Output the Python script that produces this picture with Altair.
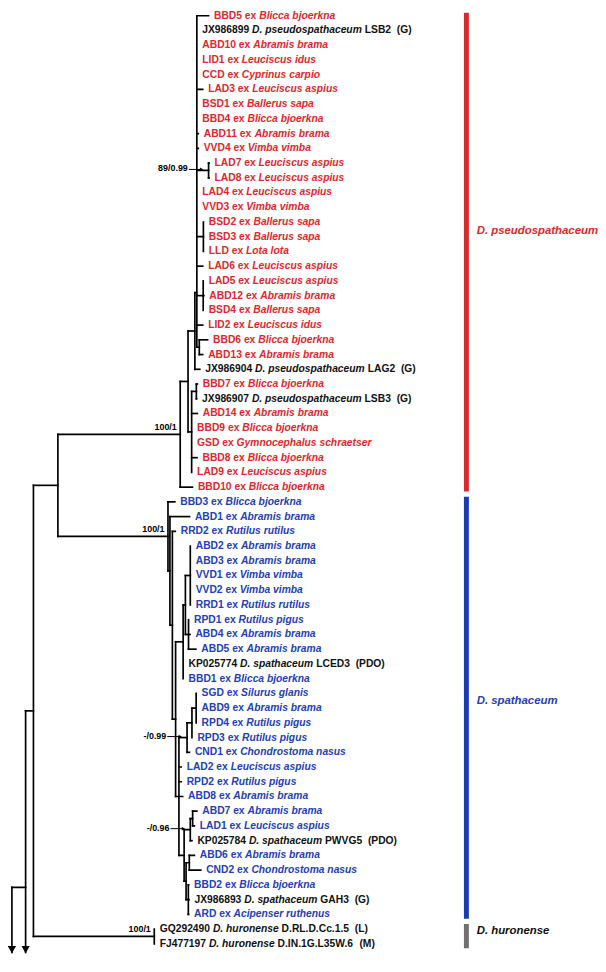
import altair as alt
import pandas as pd

# ---------------- leaves, top to bottom ----------------
leaf_codes = [
    "BBD5", "JX986899", "ABD10", "LID1", "CCD", "LAD3", "BSD1", "BBD4", "ABD11", "VVD4",
    "LAD7", "LAD8", "LAD4", "VVD3", "BSD2", "BSD3", "LLD", "LAD6", "LAD5", "ABD12",
    "BSD4", "LID2", "BBD6", "ABD13", "JX986904", "BBD7", "JX986907", "ABD14", "BBD9", "GSD",
    "BBD8", "LAD9", "BBD10",
    "BBD3", "ABD1", "RRD2", "ABD2", "ABD3", "VVD1", "VVD2", "RRD1", "RPD1", "ABD4",
    "ABD5", "KP025774", "BBD1", "SGD", "ABD9", "RPD4", "RPD3", "CND1", "LAD2", "RPD2",
    "ABD8", "ABD7", "LAD1", "KP025784", "ABD6", "CND2", "BBD2", "JX986893", "ARD",
    "GQ292490", "FJ477197",
]
leaf_hosts = [
    "Blicca bjoerkna", "D. pseudospathaceum", "Abramis brama", "Leuciscus idus", "Cyprinus carpio",
    "Leuciscus aspius", "Ballerus sapa", "Blicca bjoerkna", "Abramis brama", "Vimba vimba",
    "Leuciscus aspius", "Leuciscus aspius", "Leuciscus aspius", "Vimba vimba", "Ballerus sapa",
    "Ballerus sapa", "Lota lota", "Leuciscus aspius", "Leuciscus aspius", "Abramis brama",
    "Ballerus sapa", "Leuciscus idus", "Blicca bjoerkna", "Abramis brama", "D. pseudospathaceum",
    "Blicca bjoerkna", "D. pseudospathaceum", "Abramis brama", "Blicca bjoerkna", "Gymnocephalus schraetser",
    "Blicca bjoerkna", "Leuciscus aspius", "Blicca bjoerkna",
    "Blicca bjoerkna", "Abramis brama", "Rutilus rutilus", "Abramis brama", "Abramis brama",
    "Vimba vimba", "Vimba vimba", "Rutilus rutilus", "Rutilus pigus", "Abramis brama",
    "Abramis brama", "D. spathaceum", "Blicca bjoerkna", "Silurus glanis", "Abramis brama",
    "Rutilus pigus", "Rutilus pigus", "Chondrostoma nasus", "Leuciscus aspius", "Rutilus pigus",
    "Abramis brama", "Abramis brama", "Leuciscus aspius", "D. spathaceum", "Abramis brama",
    "Chondrostoma nasus", "Blicca bjoerkna", "D. spathaceum", "Acipenser ruthenus",
    "D. huronense", "D. huronense",
]
ref_isolate = {"JX986899": "LSB2", "JX986904": "LAG2", "JX986907": "LSB3", "KP025774": "LCED3",
               "KP025784": "PWVG5", "JX986893": "GAH3", "GQ292490": "D.RL.D.Cc.1.5",
               "FJ477197": "D.IN.1G.L35W.6"}
ref_source = {"JX986899": "(G)", "JX986904": "(G)", "JX986907": "(G)", "KP025774": "(PDO)",
              "KP025784": "(PDO)", "JX986893": "(G)", "GQ292490": "(L)", "FJ477197": "(M)"}

# ---------------- tree: children with branch lengths ----------------
tree_children = {
    "R0": "R:14 OUT2:0",
    "R": "N1:8 OUT1:0",
    "N1": "N2:25 HUR:123.5",
    "HUR": "GQ292490:0 FJ477197:0",
    "N2": "P:125 S:112.5",
    "P": "P1:8 BBD10:12.5",
    "P1": "P2:7 P3:3.7",
    "P2": "PA:2 JX986904:5",
    "PA": "BBD5:12 JX986899:0 ABD10:0 LID1:0 CCD:0 LAD3:6 BSD1:0 BBD4:0 ABD11:1.5 VVD4:1.5 "
          "PA1:12 LAD4:0 VVD3:0 PA2:6.7 LAD6:6 PA3:6.5 LID2:6 PA4:2.5",
    "PA1": "LAD7:0.5 LAD8:0.5",
    "PA2": "BSD2:0 BSD3:0 LLD:0",
    "PA3": "LAD5:0 ABD12:0.7 BSD4:0",
    "PA4": "BBD6:8.5 ABD13:3.5",
    "P3": "P3a:4.8 ABD14:5.8 BBD9:0 GSD:0 BBD8:5.5 LAD9:0",
    "P3a": "BBD7:1 JX986907:0.3",
    "S": "BBD3:7 S1:2",
    "S1": "ABD1:20 S2:2.5",
    "S2": "RRD2:3 S3:3.3",
    "S3": "SA:7.7 SE:3.4",
    "SA": "SB:2.3 KP025774:0 BBD1:0",
    "SB": "SC:5 SD:3.2",
    "SC": "ABD2:0 ABD3:0 VVD1:0 VVD2:0 RRD1:0",
    "SD": "RPD1:0 ABD4:1.5 ABD5:7.5",
    "SE": "SG:8.3 LAD2:2.3 RPD2:2.3 ABD8:3.8 SK:5.3",
    "SG": "SH:5 CND1:2.5",
    "SH": "SI:4.3 RPD3:0",
    "SI": "SGD:0 ABD9:0 RPD4:0",
    "SK": "SL:6.3 SN:2",
    "SL": "SM:2.4 KP025784:1.7",
    "SM": "ABD7:4.3 LAD1:1.8",
    "SN": "SO:3.3 SP:2.3",
    "SO": "ABD6:5.2 CND2:11.7",
    "SP": "BBD2:0.3 JX986893:0.7 ARD:0.3",
}
root_name = "R0"
root_depth = 6
node_y_override = {"PA": 18.8}
truncated_leaf_y = {"OUT1": 71.15, "OUT2": 80.0}
arrow_y = 63.4

support_nodes = ["P", "S", "HUR", "PA1", "SG", "SL"]
support_text = ["100/1", "100/1", "100/1", "89/0.99", "-/0.99", "-/0.96"]
support_style = ["above", "above", "above", "leader", "leader", "leader"]

clade_names = ["D. pseudospathaceum", "D. spathaceum", "D. huronense"]
clade_first = [0, 33, 62]
clade_last = [32, 61, 63]
clade_label_pos = [14.6, 46.5, 62.1]
clade_bar_colors = ["#D42B2E", "#1B3AB2", "#707070"]
clade_text_colors = ["#E3262B", "#2340B8", "#111111"]
bar_x = 470.5
clade_label_x = 481

# ---------------- geometry helpers ----------------
W, H = 596, 950
X_DOM = [2, 605]
Y_DOM = [-0.2016, 63.64]
kx = W / (X_DOM[1] - X_DOM[0])
ky = H / (Y_DOM[1] - Y_DOM[0])
FS = 10.4
GAP = 5.5
FONT = "Liberation Sans"

AW = {' ': 278, '(': 333, ')': 333, '-': 333, '.': 278, '/': 278,
      'A': 722, 'B': 722, 'C': 722, 'D': 722, 'E': 667, 'F': 611, 'G': 778, 'H': 722, 'I': 278,
      'J': 556, 'K': 722, 'L': 611, 'M': 833, 'N': 722, 'O': 778, 'P': 667, 'Q': 778, 'R': 722,
      'S': 667, 'T': 611, 'U': 722, 'V': 667, 'W': 944, 'X': 667, 'Y': 667, 'Z': 611,
      'a': 556, 'b': 611, 'c': 556, 'd': 611, 'e': 556, 'f': 333, 'g': 611, 'h': 611, 'i': 278,
      'j': 278, 'k': 556, 'l': 278, 'm': 889, 'n': 611, 'o': 611, 'p': 611, 'q': 611, 'r': 389,
      's': 556, 't': 333, 'u': 611, 'v': 556, 'w': 778, 'x': 556, 'y': 556, 'z': 500}


def tw(s):
    return sum(AW.get(ch, 556) for ch in s) * FS / 1000.0


def kids(n):
    spec = tree_children.get(n, "")
    out = []
    for tok in spec.split():
        name, ln = tok.split(":")
        out.append((name, float(ln)))
    return out


leaf_idx = {c: i for i, c in enumerate(leaf_codes)}
xs, ys = {}, {}
segs = []


def walk(n, x):
    xs[n] = x
    ch = kids(n)
    if not ch:
        ys[n] = leaf_idx[n] if n in leaf_idx else truncated_leaf_y[n]
        return
    for c, ln in ch:
        walk(c, x + ln)
    ys[n] = node_y_override.get(n, (ys[ch[0][0]] + ys[ch[-1][0]]) / 2.0)
    yy = [ys[c] for c, _ in ch] + [ys[n]]
    segs.append({"x1": x, "x2": x, "y1": min(yy), "y2": max(yy)})
    for c, ln in ch:
        if ln > 0:
            segs.append({"x1": x, "x2": xs[c], "y1": ys[c], "y2": ys[c]})


walk(root_name, root_depth)
seg_df = pd.DataFrame(segs)

arrow_df = pd.DataFrame([{"x": xs[n], "y": arrow_y} for n in tree_children
                         if any(c in truncated_leaf_y for c, _ in kids(n))])

# leaf label pieces
pieces = []
clade_of = ["P"] * 33 + ["S"] * 29 + ["H"] * 2
clade_col = {"P": clade_text_colors[0], "S": clade_text_colors[1], "H": clade_text_colors[2]}
for i, (code, host) in enumerate(zip(leaf_codes, leaf_hosts)):
    x0 = xs[code]
    if code in ref_isolate:
        col = "#111111"
        parts = [(code, False, 0.0),
                 (host, True, tw(code + " ")),
                 (ref_isolate[code], False, tw(code + " " + host + " ")),
                 (ref_source[code], False, tw(code + " " + host + " " + ref_isolate[code] + "  "))]
    else:
        col = clade_col[clade_of[i]]
        parts = [(code + " ex", False, 0.0), (host, True, tw(code + " ex "))]
    for t, it, off in parts:
        pieces.append({"x": x0 + (GAP + off) / kx, "y": i, "t": t, "it": it, "c": col})
piece_df = pd.DataFrame(pieces)

sup = pd.DataFrame({"node": support_nodes, "t": support_text, "style": support_style})
sup["x"] = [xs[n] for n in support_nodes]
sup["y"] = [ys[n] for n in support_nodes]
sup_above = sup[sup["style"] == "above"]
sup_lead = sup[sup["style"] == "leader"].copy()
sup_lead["lx1"] = sup_lead["x"] - 20 / kx
sup_lead["lx2"] = sup_lead["x"] - 7 / kx
sup_lead["ly"] = sup_lead["y"] - 1 / ky
sup_lead["ty"] = sup_lead["y"] - 2 / ky

bars = pd.DataFrame({"name": clade_names, "bc": clade_bar_colors, "tc": clade_text_colors,
                     "y1": [f - 0.35 for f in clade_first], "y2": [l + 0.3 for l in clade_last],
                     "ly": clade_label_pos})
bars["bx"] = bar_x
bars["lx"] = clade_label_x

# ---------------- chart ----------------
xsc = alt.Scale(domain=X_DOM, nice=False, zero=False)
ysc = alt.Scale(domain=Y_DOM, nice=False, zero=False, reverse=True)


def X(f):
    return alt.X(f + ":Q", scale=xsc, axis=None)


def Y(f):
    return alt.Y(f + ":Q", scale=ysc, axis=None)


tree = alt.Chart(seg_df).mark_rule(color="#000000", strokeWidth=1.7, strokeCap="square", clip=True).encode(
    x=X("x1"), x2="x2", y=Y("y1"), y2="y2")

arrows = alt.Chart(arrow_df).mark_point(shape="triangle-down", filled=True, color="#000000",
                                        size=70, opacity=1).encode(x=X("x"), y=Y("y"))

lab_norm = alt.Chart(piece_df[~piece_df["it"]]).mark_text(
    align="left", baseline="middle", font=FONT, fontSize=FS, fontWeight="bold").encode(
    x=X("x"), y=Y("y"), text="t:N", color=alt.Color("c:N", scale=None))

lab_ital = alt.Chart(piece_df[piece_df["it"]]).mark_text(
    align="left", baseline="middle", font=FONT, fontSize=FS, fontWeight="bold", fontStyle="italic").encode(
    x=X("x"), y=Y("y"), text="t:N", color=alt.Color("c:N", scale=None))

sup_a = alt.Chart(sup_above).mark_text(
    align="right", baseline="bottom", dx=-3.5, dy=-2.5, font=FONT, fontSize=9, fontWeight="bold",
    color="#000000").encode(x=X("x"), y=Y("y"), text="t:N")

sup_t = alt.Chart(sup_lead).mark_text(
    align="right", baseline="middle", font=FONT, fontSize=9, fontWeight="bold",
    color="#000000", dx=-1).encode(x=X("lx1"), y=Y("ty"), text="t:N")

sup_r = alt.Chart(sup_lead).mark_rule(color="#000000", strokeWidth=1).encode(
    x=X("lx1"), x2="lx2", y=Y("ly"))

sup_h = alt.Chart(sup_lead).mark_point(shape="triangle-right", filled=True, color="#000000",
                                       size=14, opacity=1).encode(x=X("lx2"), y=Y("ly"))

bar_l = alt.Chart(bars).mark_rule(strokeWidth=5, clip=True).encode(
    x=X("bx"), y=Y("y1"), y2="y2", color=alt.Color("bc:N", scale=None))

bar_t = alt.Chart(bars).mark_text(
    align="left", baseline="middle", font=FONT, fontSize=11.5, fontWeight="bold",
    fontStyle="italic").encode(x=X("lx"), y=Y("ly"), text="name:N", color=alt.Color("tc:N", scale=None))

chart = alt.layer(tree, arrows, lab_norm, lab_ital, sup_a, sup_t, sup_r, sup_h, bar_l, bar_t).properties(
    width=W, height=H, padding=0, autosize=alt.AutoSizeParams(type="none"),
    background="white").configure_view(stroke=None)

chart.save("out.html", embed_options={"renderer": "svg", "actions": False})
